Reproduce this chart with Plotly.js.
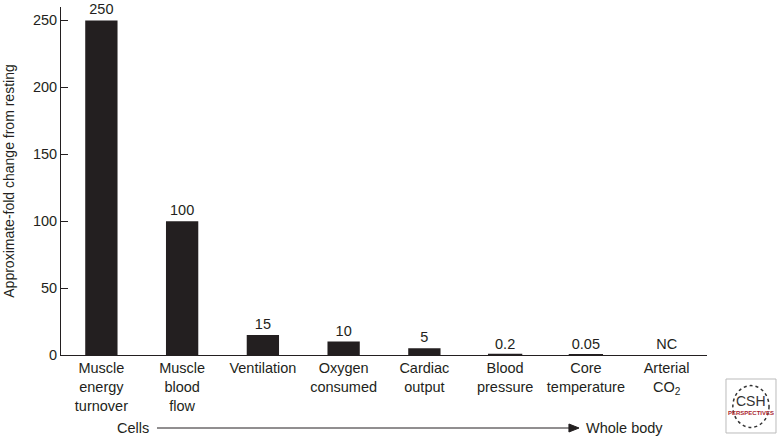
<!DOCTYPE html>
<html>
<head>
<meta charset="utf-8">
<script src="https://cdn.plot.ly/plotly-3.0.1.min.js"></script>
<style>html,body{margin:0;padding:0;background:#fff;}#chart{width:779px;height:437px;}</style>
</head>
<body>
<div id="chart"></div>
<script>
const categories = [
  "Muscle<br>energy<br>turnover",
  "Muscle<br>blood<br>flow",
  "Ventilation",
  "Oxygen<br>consumed",
  "Cardiac<br>output",
  "Blood<br>pressure",
  "Core<br>temperature",
  "Arterial<br>CO<sub>2</sub>"
];
const foldChange = [250, 100, 15, 10, 5, 0.2, 0.05, 0];
const valueLabels = ["250", "100", "15", "10", "5", "0.2", "0.05", "NC"];
const yTicks = [0, 50, 100, 150, 200, 250];

const ink = "#231f20";
const font = "Liberation Sans, Arial, Helvetica, sans-serif";
const ay = -0.2098;

const trace = {
  type: "bar",
  x: categories,
  y: foldChange,
  text: valueLabels,
  textposition: "outside",
  cliponaxis: false,
  textfont: {family: font, size: 14.5, color: ink},
  width: 0.4,
  marker: {color: ink, line: {color: ink, width: [0,0,0,0,0,2,2,0]}},
  hoverinfo: "skip"
};

const layout = {
  width: 779, height: 437, autosize: false,
  margin: {l: 61, r: 72, t: 7, b: 82},
  paper_bgcolor: "#ffffff", plot_bgcolor: "#ffffff",
  showlegend: false,
  font: {family: font, size: 14.5, color: ink},
  xaxis: {
    type: "category",
    range: [-0.5, 7.5],
    showline: true, linecolor: ink, linewidth: 1,
    ticks: "", showgrid: false, zeroline: false,
    tickfont: {family: font, size: 14.5, color: ink},
    fixedrange: true
  },
  yaxis: {
    range: [0, 260],
    tickvals: yTicks,
    ticktext: yTicks.map(String),
    ticks: "inside", ticklen: 7, tickcolor: ink, tickwidth: 1,
    showline: true, linecolor: ink, linewidth: 1,
    showgrid: false, zeroline: false,
    tickfont: {family: font, size: 14.5, color: ink},
    title: {text: "Approximate-fold change from resting", font: {family: font, size: 14, color: ink}, standoff: 14},
    fixedrange: true
  },
  annotations: [
    {xref: "paper", yref: "paper", x: 0.1115, y: ay, text: "Cells", showarrow: false,
     xanchor: "center", yanchor: "middle", font: {family: font, size: 14.5, color: ink}},
    {xref: "paper", yref: "paper", x: 0.8096, y: ay, text: "Whole body", showarrow: false,
     xanchor: "left", yanchor: "middle", font: {family: font, size: 14.5, color: ink}},
    {xref: "paper", yref: "paper", x: 1.068, y: -0.131, text: "CSH", showarrow: false,
     xanchor: "center", yanchor: "middle", font: {family: font, size: 14, color: "#333"}},
    {xref: "paper", yref: "paper", x: 1.068, y: -0.166, text: "<b>PERSPECTIVES</b>", showarrow: false,
     xanchor: "center", yanchor: "middle", font: {family: font, size: 6, color: "#a8242e"}}
  ],
  shapes: [
    {type: "line", xref: "paper", yref: "paper", x0: 0.1486, x1: 0.790, y0: ay, y1: ay,
     line: {color: ink, width: 1}},
    {type: "path", xref: "paper", yref: "paper",
     path: "M 0.7863," + (ay + 0.0115) + " L 0.8019," + ay + " L 0.7863," + (ay - 0.0115) + " Z",
     fillcolor: ink, line: {color: ink, width: 1}},
    {type: "rect", xref: "paper", yref: "paper", x0: 1.0294, x1: 1.1068, y0: -0.2241, y1: -0.069,
     line: {color: "#bbbbbb", width: 1}, fillcolor: "#ffffff", layer: "below"},
    {type: "circle", xref: "paper", yref: "paper", x0: 1.040, x1: 1.096, y0: -0.208, y1: -0.088,
     line: {color: "#333", width: 1.5, dash: "dot"}, layer: "below"}
  ]
};

Plotly.newPlot("chart", [trace], layout, {displayModeBar: false, staticPlot: true});
</script>
</body>
</html>
